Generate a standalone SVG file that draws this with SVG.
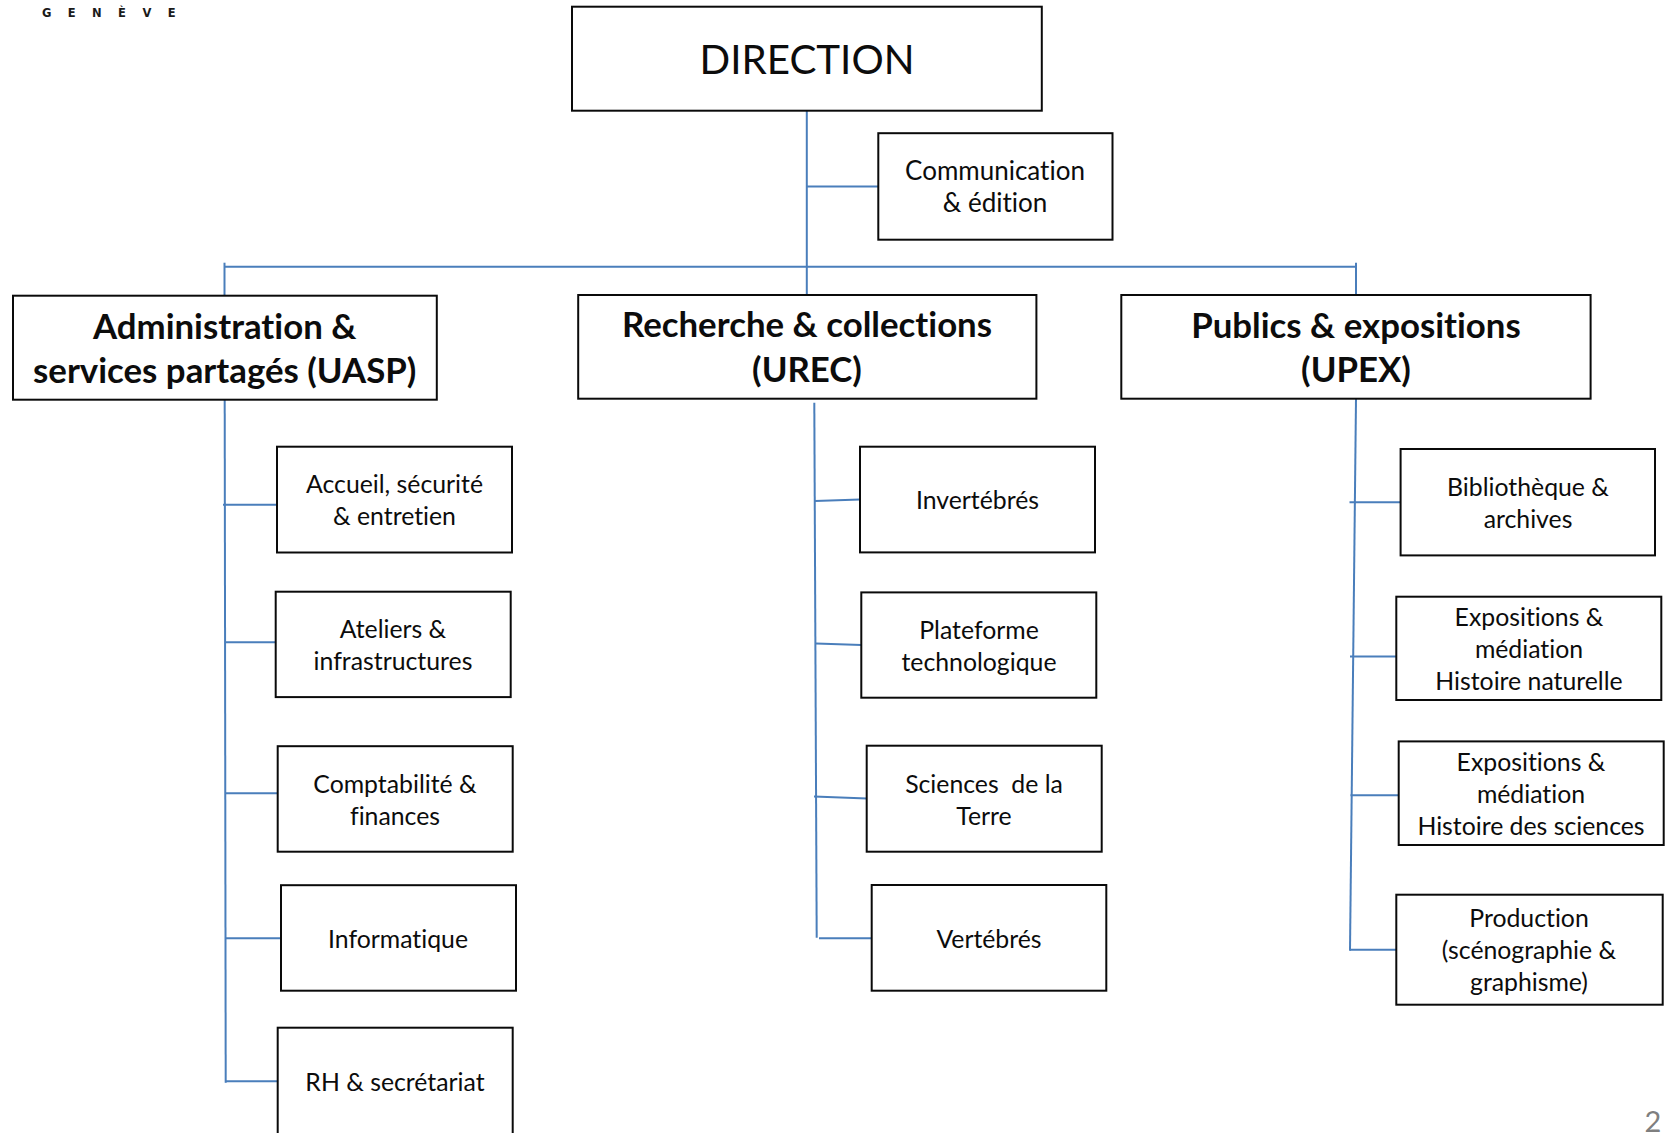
<svg xmlns="http://www.w3.org/2000/svg" width="1672" height="1133" viewBox="0 0 1672 1133">
<style>
rect.b{fill:#fff;stroke:#0a0a0a;stroke-width:2}
text{font-family:Lato,"Liberation Sans",sans-serif;fill:#0c0c0c;text-anchor:middle;white-space:pre;font-variant-ligatures:none}
.t{font-size:24.8px}
.w{font-size:26px}
.h{font-size:34.8px;font-weight:700}
.d{font-size:40.3px}
.c line{stroke:#4a7ebb;stroke-width:2;fill:none}
</style>
<rect width="1672" height="1133" fill="#fff"/>
<text id="logo" x="42" y="17" style="text-anchor:start;font-family:'DejaVu Sans',sans-serif;font-weight:700;font-size:11.5px;letter-spacing:16.4px;fill:#1a1a1a">GENÈVE</text>
<g transform="translate(0,0.7)">
<g id="connectors" class="c">
<line x1="806.8" y1="110" x2="806.8" y2="294"/>
<line x1="807" y1="185.7" x2="878" y2="185.7"/>
<line x1="224.5" y1="266" x2="1356" y2="266"/>
<line x1="224.5" y1="262" x2="224.5" y2="295"/>
<line x1="1356" y1="262" x2="1356" y2="294"/>
<line x1="224.7" y1="399" x2="225.7" y2="1082"/>
<line x1="223" y1="504" x2="277" y2="504"/>
<line x1="225" y1="641.5" x2="277" y2="641.5"/>
<line x1="225" y1="792.5" x2="278" y2="792.5"/>
<line x1="225" y1="937.5" x2="281" y2="937.5"/>
<line x1="225" y1="1080.5" x2="278" y2="1080.5"/>
<line x1="814.3" y1="402" x2="816.7" y2="937"/>
<line x1="815" y1="500.3" x2="860" y2="498.8"/>
<line x1="816" y1="642.8" x2="861.5" y2="644.3"/>
<line x1="814" y1="795.8" x2="867" y2="797.8"/>
<line x1="819" y1="937.6" x2="872" y2="937.6"/>
<line x1="1356" y1="398" x2="1350" y2="950"/>
<line x1="1349.5" y1="501.5" x2="1400.6" y2="501.5"/>
<line x1="1350" y1="655.8" x2="1396" y2="655.8"/>
<line x1="1350.5" y1="794.5" x2="1398" y2="794.5"/>
<line x1="1350" y1="949" x2="1396" y2="949"/>
</g>
<g id="direction"><rect class="b" x="572" y="6" width="469.8" height="104"/><text class="d" x="807" y="73">DIRECTION</text></g>
<g id="communication"><rect class="b" x="878.3" y="132.5" width="234.2" height="106.5"/><text class="w" x="995" y="179">Communication</text><text class="w" x="995" y="211.5">&amp; édition</text></g>
<g id="uasp"><rect class="b" x="13" y="295" width="423.8" height="104"/><text class="h" x="224.7" y="338">Administration &amp;</text><text class="h" x="224.7" y="382.7">services partagés (UASP)</text></g>
<g id="urec"><rect class="b" x="578.2" y="294.3" width="458.2" height="103.7"/><text class="h" x="807" y="336.7">Recherche &amp; collections</text><text class="h" x="807" y="381">(UREC)</text></g>
<g id="upex"><rect class="b" x="1121.3" y="294.3" width="469.3" height="103.7"/><text class="h" x="1356" y="337.3">Publics &amp; expositions</text><text class="h" x="1356" y="381">(UPEX)</text></g>
<g id="accueil"><rect class="b" x="277" y="446" width="235" height="105.8"/><text class="t" x="394.5" y="492">Accueil, sécurité</text><text class="t" x="394.5" y="524">&amp; entretien</text></g>
<g id="ateliers"><rect class="b" x="275.7" y="591" width="235" height="105.4"/><text class="t" x="393" y="637">Ateliers &amp;</text><text class="t" x="393" y="669">infrastructures</text></g>
<g id="comptabilite"><rect class="b" x="277.7" y="745.5" width="235" height="105.5"/><text class="t" x="395" y="792">Comptabilité &amp;</text><text class="t" x="395" y="824">finances</text></g>
<g id="informatique"><rect class="b" x="281" y="884.5" width="235" height="105.5"/><text class="t" x="398" y="947">Informatique</text></g>
<g id="rh"><rect class="b" x="277.7" y="1027" width="235" height="107"/><text class="t" x="395" y="1090">RH &amp; secrétariat</text></g>
<g id="invertebres"><rect class="b" x="860" y="446" width="235" height="105.7"/><text class="t" x="977.5" y="508">Invertébrés</text></g>
<g id="plateforme"><rect class="b" x="861.3" y="591.7" width="235" height="105.3"/><text class="t" x="979" y="638">Plateforme</text><text class="t" x="979" y="670">technologique</text></g>
<g id="sciences"><rect class="b" x="866.7" y="745" width="235" height="106"/><text class="t" x="984" y="792">Sciences  de la</text><text class="t" x="984" y="824">Terre</text></g>
<g id="vertebres"><rect class="b" x="871.7" y="884.3" width="234.6" height="105.7"/><text class="t" x="989" y="947">Vertébrés</text></g>
<g id="bibliotheque"><rect class="b" x="1400.6" y="448.3" width="254.4" height="106.4"/><text class="t" x="1528" y="495">Bibliothèque &amp;</text><text class="t" x="1528" y="527">archives</text></g>
<g id="expo-hn"><rect class="b" x="1396.3" y="596" width="265" height="103.3"/><text class="t" x="1529" y="625">Expositions &amp;</text><text class="t" x="1529" y="657">médiation</text><text class="t" x="1529" y="689">Histoire naturelle</text></g>
<g id="expo-hs"><rect class="b" x="1398.7" y="740.7" width="265" height="103.6"/><text class="t" x="1531" y="770">Expositions &amp;</text><text class="t" x="1531" y="802">médiation</text><text class="t" x="1531" y="834">Histoire des sciences</text></g>
<g id="production"><rect class="b" x="1396.3" y="894" width="266.4" height="110"/><text class="t" x="1529" y="926">Production</text><text class="t" x="1529" y="958">(scénographie &amp;</text><text class="t" x="1529" y="990">graphisme)</text></g>
</g>
<text id="page" x="1653" y="1131.5" style="font-size:29px;fill:#7f7f7f">2</text>
</svg>
